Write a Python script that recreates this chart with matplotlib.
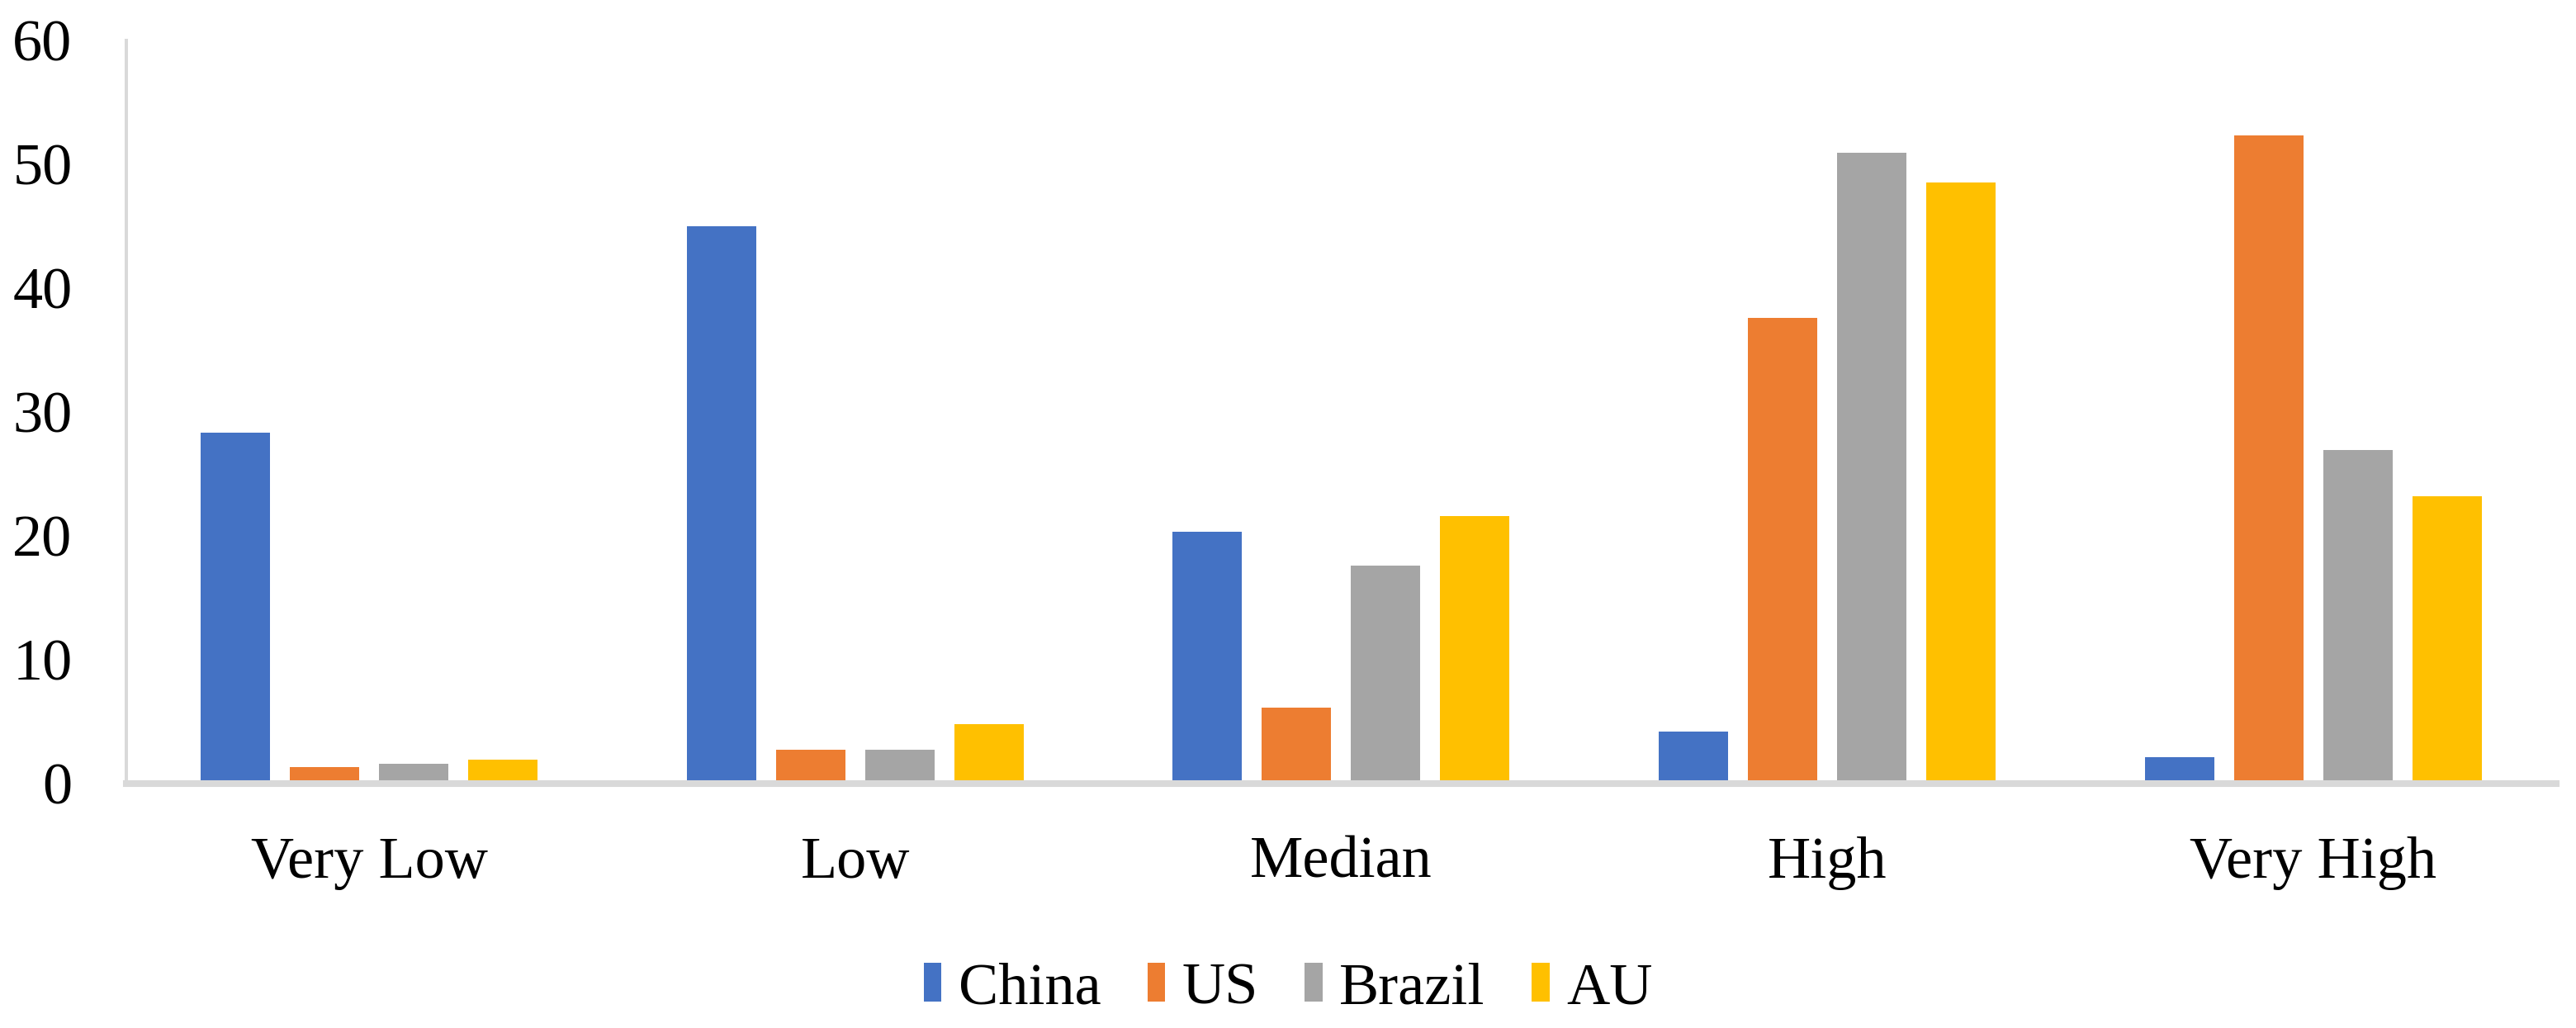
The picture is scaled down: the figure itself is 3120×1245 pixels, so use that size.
import numpy as np
import matplotlib
matplotlib.use('Agg')
import matplotlib.pyplot as plt

categories = ['Very Low', 'Low', 'Median', 'High', 'Very High']
countries = ['China', 'US', 'Brazil', 'AU']
china = [28.3, 45.0, 20.3, 4.2, 2.1]
us = [1.3, 2.7, 6.1, 37.6, 52.3]
brazil = [1.6, 2.7, 17.6, 50.9, 26.9]
au = [1.9, 4.8, 21.6, 48.5, 23.2]
colors = ['#4472C4', '#ED7D31', '#A5A5A5', '#FFC000']
yticks = [0, 10, 20, 30, 40, 50, 60]

plt.rcParams['font.family'] = ['Liberation Serif', 'DejaVu Serif']

fig = plt.figure(figsize=(31.2, 12.45), dpi=100)
ax = fig.add_axes([0.049, 0.2378, 0.9433, 0.7229])

x = np.arange(len(categories))
pitch = 0.1835
width = 0.1427
for i, (name, vals) in enumerate(zip(countries, [china, us, brazil, au])):
    ax.bar(x + (i - 1.5) * pitch, vals, width=width, color=colors[i], label=name, zorder=1)

ax.set_xlim(-0.5, len(categories) - 0.5)
ax.set_ylim(0, 60)
ax.set_yticks(yticks)
ax.set_yticklabels([str(t) for t in yticks])
ax.set_xticks(x)
ax.set_xticklabels(categories)

for s in ['top', 'right']:
    ax.spines[s].set_visible(False)
ax.spines['left'].set_color('#D9D9D9')
ax.spines['left'].set_linewidth(2.9)
ax.spines['bottom'].set_color('#D9D9D9')
ax.spines['bottom'].set_linewidth(5.8)
ax.spines['bottom'].set_zorder(3)
ax.tick_params(axis='y', length=0, pad=47, labelsize=52, labelcolor='black')
ax.tick_params(axis='x', length=0, pad=46, labelsize=52, labelcolor='black')

fig.legend(loc='center', bbox_to_anchor=(0.5, 0.038), ncol=4, frameon=False,
           fontsize=52, handlelength=0.3, handleheight=0.62,
           handletextpad=0.28, columnspacing=0.78)

fig.savefig('out.png', dpi=100, facecolor='white')
